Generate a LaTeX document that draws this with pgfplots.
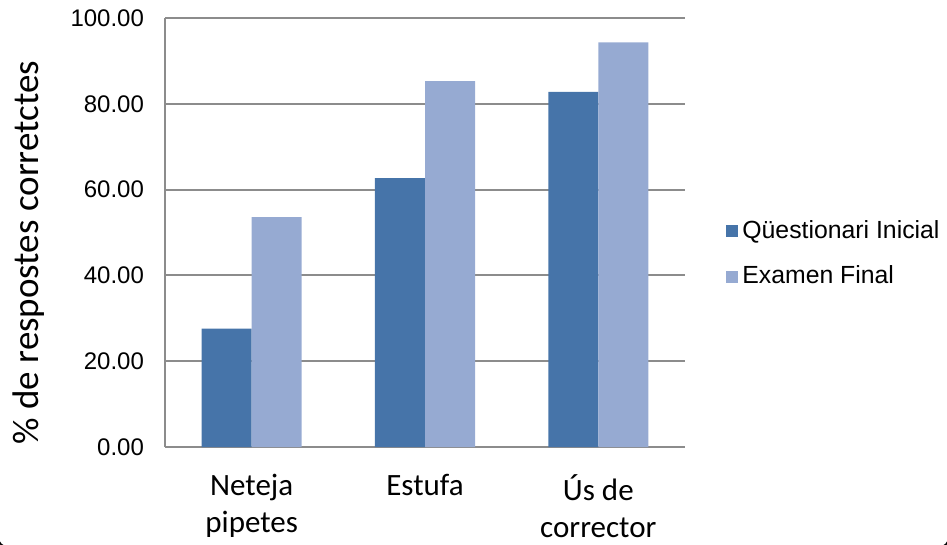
\documentclass[border=0pt]{standalone}
\usepackage{pgfplots}
\pgfplotsset{compat=1.18}
\usepackage{fontspec}
\setmainfont{Liberation Sans}
\newfontfamily\calibri{Carlito}
\definecolor{darkblue}{HTML}{4674A9}
\definecolor{lightblue}{HTML}{96AAD2}
\definecolor{gridgray}{HTML}{8C8C8C}
\begin{document}
\begin{tikzpicture}
\useasboundingbox (0,0) rectangle (473.5pt,-272.5pt);
\draw[black, line width=0.8pt, rounded corners=5pt] (-1pt,20pt) rectangle (474.5pt,-273.6pt);
\begin{axis}[
  at={(82.5pt,-9pt)}, anchor=north west,
  scale only axis, width=260pt, height=214.5pt,
  ybar=0pt, bar width=25pt,
  xmin=-0.5, xmax=2.5, ymin=0, ymax=100,
  xtick=data,
  xticklabels={{Neteja\\pipetes},{Estufa},{Ús de\\corrector}},
  ytick={0,20,40,60,80,100},
  ymajorgrids, grid style={gridgray, line width=1pt},
  axis x line*=bottom, axis y line*=left,
  axis line style={gridgray, line width=1pt},
  major tick length=0pt,
  yticklabel={\pgfmathprintnumber[fixed,zerofill,precision=2,assume math mode=true]{\tick}},
  yticklabel style={font=\fontsize{12}{14}\selectfont, anchor=east, xshift=-7pt},
  xticklabel style={font=\calibri\fontsize{15.5}{18.5}\selectfont, align=center, anchor=north, yshift=-10.2pt},
  ylabel={\% de respostes corretctes},
  ylabel style={font=\calibri\fontsize{18.5}{22}\selectfont, at={(axis description cs:-0.2615,0.453)}, anchor=center},
  legend style={at={(axis description cs:1,0.451)}, anchor=west, xshift=20.5pt, draw=none, fill=none, inner sep=0pt, row sep=8.5pt, font=\fontsize{12.4}{14}\selectfont, nodes={inner xsep=2pt}},
  legend cell align=left,
  legend image code/.code={\fill[#1,draw=none] (0pt,-3pt) rectangle (6pt,3pt);},
]
\addplot[fill=darkblue, draw=none] coordinates {(0,27.6) (1,62.7) (2,82.8)};
\addplot[fill=lightblue, draw=none] coordinates {(0,53.6) (1,85.3) (2,94.3)};
\legend{Qüestionari Inicial, Examen Final}
\end{axis}
\end{tikzpicture}
\end{document}
